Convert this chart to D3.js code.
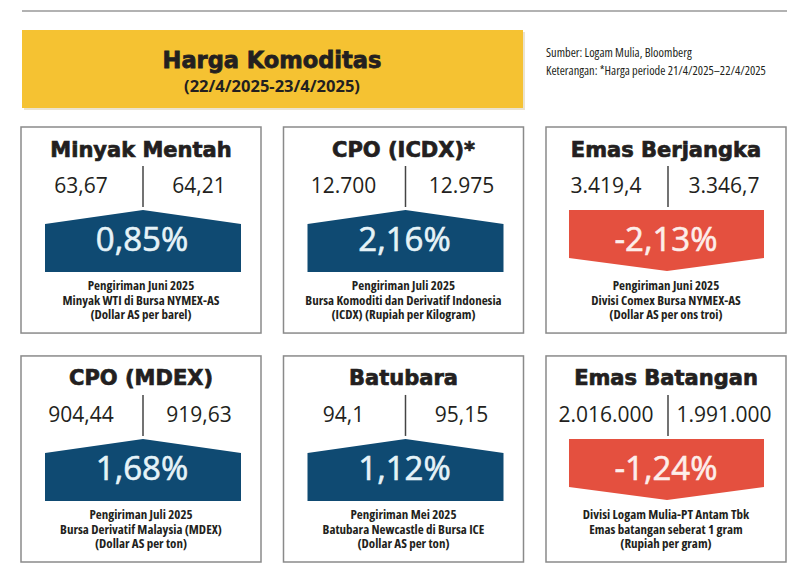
<!DOCTYPE html>
<html>
<head>
<meta charset="utf-8">
<script src="https://cdn.jsdelivr.net/npm/d3@7"></script>
<style>
  body { margin: 0; background: #fff; }
  svg { display: block; }
</style>
</head>
<body>
<svg id="chart" width="795" height="577"></svg>
<script>
// data
const titles = ["Minyak Mentah", "CPO (ICDX)*", "Emas Berjangka", "CPO (MDEX)", "Batubara", "Emas Batangan"]
const prevPrice = [63.67, 12700, 3419.4, 904.44, 94.1, 2016000]
const currPrice = [64.21, 12975, 3346.7, 919.63, 95.15, 1991000]
const changePct = [0.85, 2.16, -2.13, 1.68, 1.12, -1.24]
const notes = [
    ["Pengiriman Juni 2025", "Minyak WTI di Bursa NYMEX-AS", "(Dollar AS per barel)"],
    ["Pengiriman Juli 2025", "Bursa Komoditi dan Derivatif Indonesia", "(ICDX) (Rupiah per Kilogram)"],
    ["Pengiriman Juni 2025", "Divisi Comex Bursa NYMEX-AS", "(Dollar AS per ons troi)"],
    ["Pengiriman Juli 2025", "Bursa Derivatif Malaysia (MDEX)", "(Dollar AS per ton)"],
    ["Pengiriman Mei 2025", "Batubara Newcastle di Bursa ICE", "(Dollar AS per ton)"],
    ["Divisi Logam Mulia-PT Antam Tbk", "Emas batangan seberat 1 gram", "(Rupiah per gram)"]
]
const header = ["Harga Komoditas", "(22/4/2025-23/4/2025)"]
const sourceLines = ["Sumber: Logam Mulia, Bloomberg", "Keterangan:  *Harga periode 21/4/2025\u201322/4/2025"]

const locale = d3.formatLocale({decimal: ",", thousands: ".", grouping: [3], currency: ["Rp", ""], minus: "-"})
const fmtPrice = locale.format(",.2~f")
const fmtPct = locale.format(".2f")

const svg = d3.select("#chart")
const dark = "#231f20"
const blue = "#0f4a72"
const red = "#e4503f"

svg.append("rect").attr("width", 795).attr("height", 577).attr("fill", "#fff")

// top rule
svg.append("line")
    .attr("x1", 22).attr("x2", 787).attr("y1", 11).attr("y2", 11)
    .attr("stroke", "#666").attr("stroke-width", 1.2)

// header box
svg.append("rect")
    .attr("x", 24).attr("y", 32).attr("width", 501).attr("height", 78)
    .attr("fill", "#d8c8a0").attr("opacity", 0.5)
svg.append("rect")
    .attr("x", 22).attr("y", 30).attr("width", 501).attr("height", 78)
    .attr("fill", "#f5c232")

svg.append("text")
    .attr("x", 272).attr("y", 68)
    .attr("text-anchor", "middle")
    .attr("font-family", "DejaVu Sans")
    .attr("font-weight", "bold")
    .attr("font-size", 22.5)
    .attr("fill", dark)
    .attr("stroke", dark)
    .attr("stroke-width", 0.8)
    .text(header[0])

svg.append("text")
    .attr("x", 272).attr("y", 92)
    .attr("text-anchor", "middle")
    .attr("font-family", "Open Sans")
    .attr("font-weight", 700)
    .attr("font-size", 16.5)
    .attr("fill", dark)
    .text(header[1])

svg.selectAll("text.source")
    .data(sourceLines)
    .join("text")
    .classed("source", true)
    .attr("x", 546)
    .attr("y", (d, i) => 57 + i * 18)
    .attr("font-family", "Liberation Sans Narrow, Open Sans")
    .attr("font-stretch", "condensed")
    .attr("font-size", 12.4)
    .attr("fill", dark)
    .text((d) => d)

// card grid
const col = d3.scaleBand().domain([0, 1, 2]).range([21, 786]).paddingInner(0.0857)
const row = d3.scaleBand().domain([0, 1]).range([127, 562]).paddingInner(0.1)
const cw = col.bandwidth()
const mid = 122

const cards = svg.selectAll("g.card")
    .data(titles.map((t, i) => ({
        title: t, prev: prevPrice[i], curr: currPrice[i], pct: changePct[i], note: notes[i], i: i
    })))
    .join("g")
    .classed("card", true)
    .attr("transform", (d) => `translate(${col(d.i % 3)},${row(Math.floor(d.i / 3))})`)

cards.append("rect")
    .attr("x", 0).attr("y", 0)
    .attr("width", cw).attr("height", row.bandwidth())
    .attr("fill", "#fff")
    .attr("stroke", "#8a8a8a")
    .attr("stroke-width", 1.5)

cards.append("text")
    .attr("x", cw / 2).attr("y", 29.5)
    .attr("text-anchor", "middle")
    .attr("font-family", "DejaVu Sans")
    .attr("font-weight", "bold")
    .attr("font-size", 21)
    .attr("fill", dark)
    .attr("stroke", dark)
    .attr("stroke-width", 0.7)
    .text((d) => d.title)

cards.append("line")
    .attr("x1", mid).attr("x2", mid).attr("y1", 39).attr("y2", 80)
    .attr("stroke", "#444").attr("stroke-width", 1.5)

cards.append("text")
    .attr("x", 60).attr("y", 66)
    .attr("text-anchor", "middle")
    .attr("font-family", "Open Sans")
    .attr("font-size", 21)
    .attr("fill", dark)
    .text((d) => fmtPrice(d.prev))

cards.append("text")
    .attr("x", 178).attr("y", 66)
    .attr("text-anchor", "middle")
    .attr("font-family", "Open Sans")
    .attr("font-size", 21)
    .attr("fill", dark)
    .text((d) => fmtPrice(d.curr))

// arrow: points up for a rise, down for a fall
var arrowPath = function(d) {
    if (d.pct >= 0) {
        return `M24,97 L${mid},83 L220,97 L220,145 L24,145 Z`
    }
    return `M23,83 L218,83 L218,131 L${mid - 1},144 L23,131 Z`
}

cards.append("path")
    .attr("d", arrowPath)
    .attr("fill", (d) => d.pct >= 0 ? blue : red)

cards.append("text")
    .attr("x", (d) => d.pct >= 0 ? 121 : 120)
    .attr("y", 124)
    .attr("text-anchor", "middle")
    .attr("font-family", "Open Sans")
    .attr("font-size", 33)
    .attr("fill", (d) => d.pct >= 0 ? "#e6f3f8" : "#fdeeea")
    .attr("stroke", (d) => d.pct >= 0 ? "#e6f3f8" : "#fdeeea")
    .attr("stroke-width", 0.6)
    .text((d) => fmtPct(d.pct) + "%")

cards.each(function(d) {
    d3.select(this).selectAll("text.note")
        .data(d.note)
        .join("text")
        .classed("note", true)
        .attr("x", cw / 2)
        .attr("y", (t, j) => 163 + j * 14.7)
        .attr("text-anchor", "middle")
        .attr("font-family", "Liberation Sans Narrow, Open Sans")
        .attr("font-stretch", "condensed")
        .attr("font-weight", "bold")
        .attr("font-size", 13)
        .attr("fill", dark)
        .text((t) => t)
})
</script>
</body>
</html>
